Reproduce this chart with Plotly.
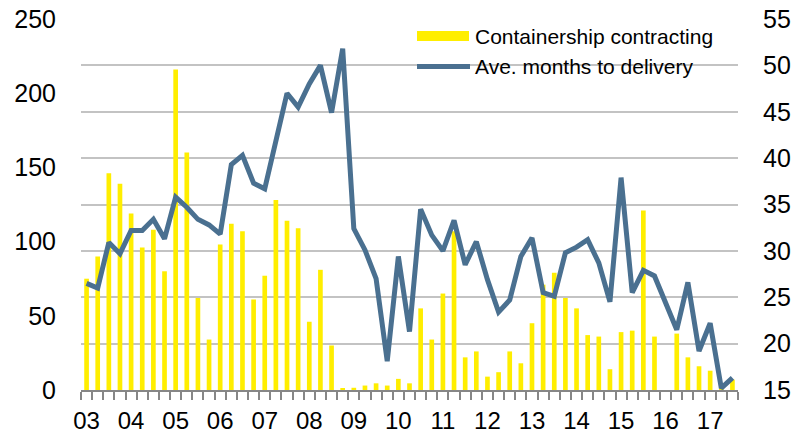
import plotly.graph_objects as go

years = ["03", "04", "05", "06", "07", "08", "09", "10", "11", "12", "13", "14", "15", "16", "17"]
quarters = [f"{y}Q{q}" for y in years for q in range(1, 5)][:59]

contracting = [75, 90, 146, 139, 119, 96, 108, 80, 216, 160,
               62, 34, 98, 112, 107, 61, 77, 128, 114, 109,
               46, 81, 30, 1, 1.5, 3, 4.5, 3, 7.5, 4.5,
               55, 34, 65, 107, 22, 26, 9, 12, 26, 18,
               45, 71, 79, 62, 55, 37, 36, 14, 39, 40,
               121, 36, 0, 38, 22, 16, 13, 2, 7]
months = [26.5, 26.0, 30.9, 29.7, 32.2, 32.2, 33.4, 31.3, 35.8, 34.7,
          33.4, 32.8, 31.8, 39.3, 40.3, 37.3, 36.7, 42.0, 47.0, 45.5,
          48.0, 50.0, 44.9, 51.8, 32.4, 30.1, 27.0, 18.1, 29.4, 21.3,
          34.5, 31.7, 30.0, 33.3, 28.5, 31.0, 26.9, 23.4, 24.7, 29.4,
          31.4, 25.5, 25.1, 29.8, 30.4, 31.2, 28.7, 24.5, 37.9, 25.5,
          27.9, 27.3, 24.3, 21.5, 26.6, 19.2, 22.2, 15.2, 16.3]

bar_name = "Containership contracting"
line_name = "Ave. months to delivery"

YELLOW = "#FFEE00"
BLUE = "#4A7090"
FONT = "Liberation Sans, Arial, sans-serif"

x = list(range(len(quarters)))
tickvals = [i for i, q in enumerate(quarters) if q.endswith("Q1")]
ticktext = [quarters[i][:2] for i in tickvals]

W, H = 792, 434
L, R, T, B = 81, 54, 19, 44
PW, PH = W - L - R, H - T - B


def px_x(v):
    return (v - L) / PW


def px_y(v):
    return (H - B - v) / PH


fig = go.Figure()
fig.add_trace(go.Bar(x=x, y=contracting, name=bar_name, marker_color=YELLOW,
                     marker_line_width=0, width=0.42, yaxis="y", showlegend=False))
fig.add_trace(go.Scatter(x=x, y=months, name=line_name, mode="lines",
                         line=dict(color=BLUE, width=5), yaxis="y2", showlegend=False))

fig.update_layout(
    width=W, height=H,
    margin=dict(l=L, r=R, t=T, b=B),
    paper_bgcolor="white", plot_bgcolor="white",
    font=dict(family=FONT, color="black", size=25),
    xaxis=dict(range=[-0.5, len(quarters) - 0.5], tickvals=tickvals, ticktext=ticktext,
               ticks="", showgrid=False, zeroline=False, automargin=False,
               showline=True, linecolor="#868686", linewidth=1.5,
               ticklabelstandoff=8, ticklabeloverflow="allow",
               minor=dict(tick0=-0.5, dtick=1, ticks="outside", ticklen=8,
                          tickcolor="#868686", tickwidth=1.5, showgrid=False),
               tickfont=dict(size=24)),
    yaxis=dict(range=[0, 250], tickvals=[0, 50, 100, 150, 200, 250], showgrid=False,
               zeroline=False, showline=False, ticks="", ticklabelstandoff=24,
               ticklabeloverflow="allow", automargin=False, tickfont=dict(size=25)),
    yaxis2=dict(range=[15, 55], dtick=5, tick0=15, overlaying="y", side="right",
                showgrid=True, gridcolor="#C3C3C3", gridwidth=1.5, zeroline=False,
                showline=False, ticks="", ticklabelstandoff=24, automargin=False,
                ticklabeloverflow="allow", tickfont=dict(size=25)),
    showlegend=False,
)

# legend drawn manually (positions in figure pixels)
fig.add_shape(type="rect", xref="paper", yref="paper",
              x0=px_x(417), x1=px_x(469), y0=px_y(41), y1=px_y(31),
              fillcolor=YELLOW, line_width=0)
fig.add_shape(type="line", xref="paper", yref="paper",
              x0=px_x(417), x1=px_x(470), y0=px_y(66.5), y1=px_y(66.5),
              line=dict(color=BLUE, width=5))
fig.add_annotation(text=bar_name, xref="paper", yref="paper",
                   x=px_x(473), y=px_y(36), xanchor="left", yanchor="middle",
                   showarrow=False, font=dict(size=21, family=FONT, color="black"))
fig.add_annotation(text=line_name, xref="paper", yref="paper",
                   x=px_x(473), y=px_y(66.5), xanchor="left", yanchor="middle",
                   showarrow=False, font=dict(size=21, family=FONT, color="black"))

fig.write_html(
    "out.html",
    config={"displayModeBar": False},
    post_script="document.body.style.margin='0';document.body.style.overflow='hidden';",
)
